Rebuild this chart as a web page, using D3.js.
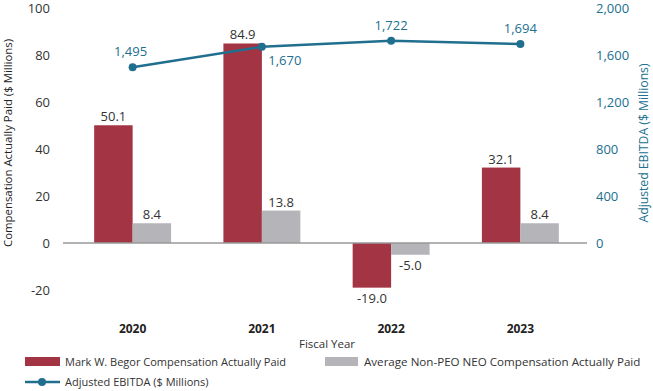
<!DOCTYPE html>
<html>
<head>
<meta charset="utf-8">
<script src="https://cdn.jsdelivr.net/npm/d3@7"></script>
<style>
  body { margin: 0; background: #fff; }
  text { font-family: "Open Sans", sans-serif; }
</style>
</head>
<body>
<script>
const width = 653;
const height = 391;

const years = ['2020', '2021', '2022', '2023'];
const ceoPay = [50.1, 84.9, -19.0, 32.1];
const neoPay = [8.4, 13.8, -5.0, 8.4];
const ebitda = [1495, 1670, 1722, 1694];
const leftTicks = [-20, 0, 20, 40, 60, 80, 100];
const rightTicks = [0, 400, 800, 1200, 1600, 2000];

const red = '#a33444';
const grey = '#b4b4b9';
const teal = '#216f8f';

const svg = d3.select('body').append('svg')
  .attr('width', width)
  .attr('height', height);

const x = d3.scaleBand().domain(years).range([68, 585]);
const inner = d3.scaleBand().domain(['ceo', 'neo']).range([0, x.bandwidth()]).paddingInner(0).paddingOuter(0.68);
const yL = d3.scaleLinear().domain([-20, 100]).range([290, 8]);
const yR = d3.scaleLinear().domain([-400, 2000]).range([290, 8]);

// left axis
const leftAxis = svg.append('g')
  .attr('transform', 'translate(50,0)')
  .call(d3.axisLeft(yL).tickValues(leftTicks).tickSize(0).tickPadding(0).tickFormat(d => String(d)));
leftAxis.select('.domain').remove();
leftAxis.selectAll('text')
  .attr('font-size', 13).attr('fill', '#333').attr('dy', '0.38em');

// right axis
const rightAxis = svg.append('g')
  .attr('transform', 'translate(596,0)')
  .call(d3.axisRight(yR).tickValues(rightTicks).tickSize(0).tickPadding(0).tickFormat(d3.format(',')));
rightAxis.select('.domain').remove();
rightAxis.selectAll('text')
  .attr('font-size', 13).attr('fill', teal).attr('dy', '0.38em');

// bars
const groups = svg.append('g').selectAll('g')
  .data(years)
  .enter().append('g')
    .attr('transform', d => `translate(${x(d)},0)`);

groups.append('rect')
  .attr('x', inner('ceo'))
  .attr('width', inner.bandwidth())
  .attr('y', (d, i) => yL(Math.max(0, ceoPay[i])))
  .attr('height', (d, i) => Math.abs(yL(ceoPay[i]) - yL(0)))
  .attr('fill', red);

groups.append('rect')
  .attr('x', inner('neo'))
  .attr('width', inner.bandwidth())
  .attr('y', (d, i) => yL(Math.max(0, neoPay[i])))
  .attr('height', (d, i) => Math.abs(yL(neoPay[i]) - yL(0)))
  .attr('fill', grey);

// bar labels
const fmt1 = v => v.toFixed(1).replace('\u2212', '-');
groups.append('text')
  .attr('x', inner('ceo') + inner.bandwidth() / 2)
  .attr('y', (d, i) => ceoPay[i] >= 0 ? yL(ceoPay[i]) - 4 : yL(ceoPay[i]) + 15)
  .attr('text-anchor', 'middle')
  .attr('font-size', 13).attr('fill', '#333')
  .text((d, i) => fmt1(ceoPay[i]));

groups.append('text')
  .attr('x', inner('neo') + inner.bandwidth() / 2)
  .attr('y', (d, i) => neoPay[i] >= 0 ? yL(neoPay[i]) - 4 : yL(neoPay[i]) + 15)
  .attr('text-anchor', 'middle')
  .attr('font-size', 13).attr('fill', '#333')
  .text((d, i) => fmt1(neoPay[i]));

// zero line
svg.append('line')
  .attr('x1', 63).attr('x2', 587)
  .attr('y1', yL(0)).attr('y2', yL(0))
  .attr('stroke', '#999').attr('stroke-width', 1.5);

// EBITDA line
const lineX = (d, i) => x(years[i]) + x.bandwidth() / 2;
svg.append('path')
  .datum(ebitda)
  .attr('fill', 'none')
  .attr('stroke', teal)
  .attr('stroke-width', 2.5)
  .attr('d', d3.line().x(lineX).y(d => yR(d)));

svg.append('g').selectAll('circle')
  .data(ebitda)
  .enter().append('circle')
    .attr('cx', lineX)
    .attr('cy', d => yR(d))
    .attr('r', 4)
    .attr('fill', teal);

// label offsets relative to each point
const lblOffsets = [[-2, -11], [23, 18], [0, -11], [0, -11]];
svg.append('g').selectAll('text')
  .data(ebitda)
  .enter().append('text')
    .attr('x', (d, i) => lineX(d, i) + lblOffsets[i][0])
    .attr('y', (d, i) => yR(d) + lblOffsets[i][1])
    .attr('text-anchor', 'middle')
    .attr('font-size', 13)
    .attr('fill', teal)
    .text(d => d3.format(',')(d));

// year labels
svg.append('g').selectAll('text')
  .data(years)
  .enter().append('text')
    .attr('x', d => x(d) + x.bandwidth() / 2)
    .attr('y', 333)
    .attr('text-anchor', 'middle')
    .attr('font-size', 12)
    .attr('font-weight', 'bold')
    .attr('fill', '#222')
    .text(d => d);

svg.append('text')
  .attr('x', 327).attr('y', 348)
  .attr('text-anchor', 'middle')
  .attr('font-size', 11.5).attr('fill', '#333')
  .text('Fiscal Year');

// axis titles
svg.append('text')
  .attr('transform', 'translate(12,143) rotate(-90)')
  .attr('text-anchor', 'middle')
  .attr('font-size', 11.4).attr('fill', '#222')
  .text('Compensation Actually Paid ($ Millions)');

svg.append('text')
  .attr('transform', 'translate(648,143) rotate(-90)')
  .attr('text-anchor', 'middle')
  .attr('font-size', 12.2).attr('fill', teal)
  .text('Adjusted EBITDA ($ Millions)');

// legend
const legend = svg.append('g');
legend.append('rect').attr('x', 25).attr('y', 357).attr('width', 35).attr('height', 9).attr('fill', red);
legend.append('text').attr('x', 65).attr('y', 366).attr('font-size', 11).attr('fill', '#333')
  .text('Mark W. Begor Compensation Actually Paid');
legend.append('rect').attr('x', 325).attr('y', 357).attr('width', 33).attr('height', 9).attr('fill', grey);
legend.append('text').attr('x', 364).attr('y', 366).attr('font-size', 11.6).attr('fill', '#333')
  .text('Average Non-PEO NEO Compensation Actually Paid');
legend.append('line').attr('x1', 25).attr('x2', 60).attr('y1', 382).attr('y2', 382)
  .attr('stroke', teal).attr('stroke-width', 2.5);
legend.append('circle').attr('cx', 42).attr('cy', 382).attr('r', 4).attr('fill', teal);
legend.append('text').attr('x', 65).attr('y', 386).attr('font-size', 11).attr('fill', '#333')
  .text('Adjusted EBITDA ($ Millions)');
</script>
</body>
</html>
